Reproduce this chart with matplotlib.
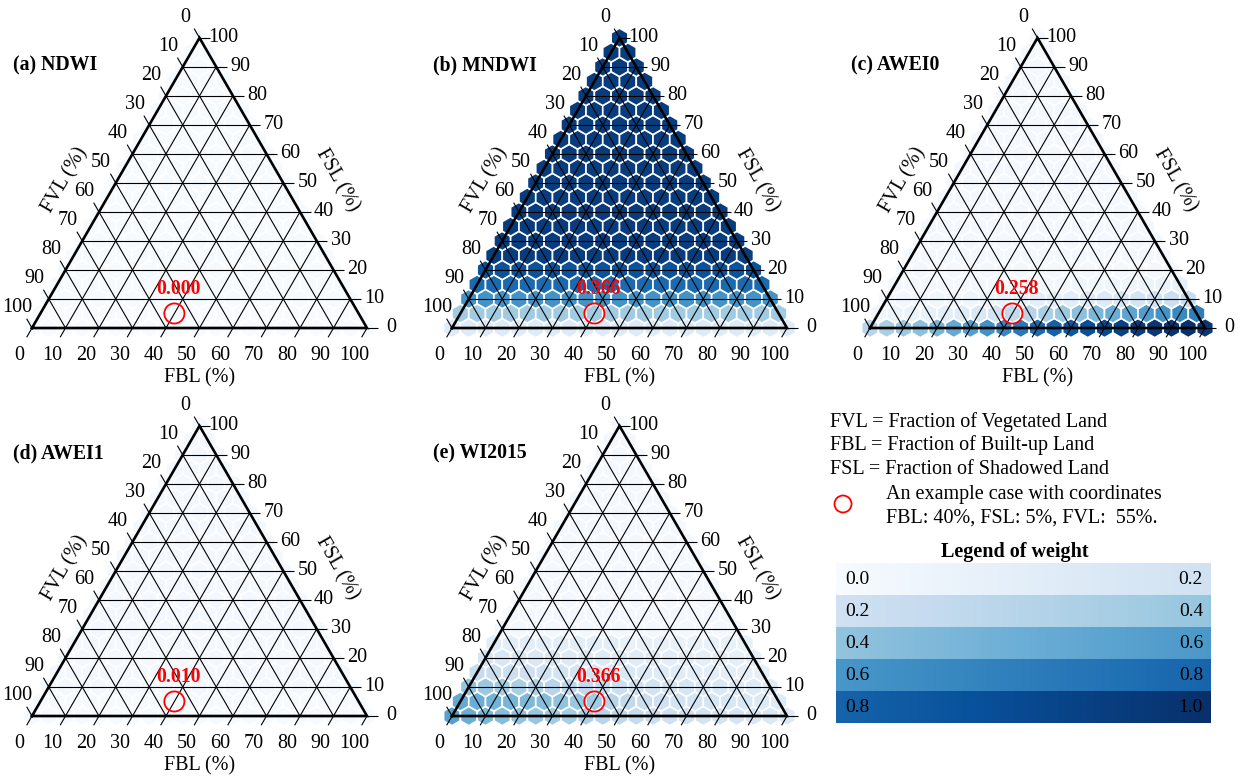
import numpy as np
import matplotlib
matplotlib.use("Agg")
import matplotlib.pyplot as plt
from matplotlib.patches import RegularPolygon, Circle
from matplotlib.collections import PatchCollection

plt.rcParams['font.family'] = 'Liberation Serif'

ticks = [0, 10, 20, 30, 40, 50, 60, 70, 80, 90, 100]

# weights, one row per FSL level (0, 5, ..., 100); each row runs over FBL = 0, 5, ..., 100 - FSL
ndwi = [[0.0] * 21, [0.0] * 20] + [[0.01] * n for n in range(19, 0, -1)]

mndwi = [[0.13] * 21, [0.366] * 20, [0.62] * 19, [0.78] * 18, [0.87] * 17] + \
        [[0.95] * n for n in range(16, 0, -1)]

awei0 = [
    [0.30, 0.34, 0.38, 0.42, 0.47, 0.52, 0.57, 0.62, 0.67, 0.72, 0.77,
     0.81, 0.85, 0.88, 0.91, 0.93, 0.95, 0.97, 0.98, 0.99, 0.97],
    [0.05, 0.06, 0.07, 0.08, 0.10, 0.12, 0.15, 0.19, 0.258, 0.30,
     0.34, 0.38, 0.42, 0.46, 0.50, 0.54, 0.58, 0.62, 0.66, 0.70],
    [0.03, 0.03, 0.04, 0.04, 0.05, 0.05, 0.06, 0.07, 0.08, 0.09,
     0.10, 0.11, 0.12, 0.14, 0.16, 0.18, 0.20, 0.22, 0.24],
    [0.02] * 9 + [0.03, 0.03, 0.04, 0.04, 0.05, 0.05, 0.06, 0.07, 0.08],
] + [[0.02] * n for n in range(17, 0, -1)]

awei1 = [[0.01] * 21, [0.01] * 20] + [[0.02] * n for n in range(19, 0, -1)]

wi2015 = [
    [0.56, 0.50, 0.46, 0.43, 0.41, 0.39, 0.37, 0.35, 0.33, 0.30, 0.27,
     0.25, 0.23, 0.21, 0.20, 0.19, 0.18, 0.17, 0.16, 0.15, 0.14],
    [0.52, 0.50, 0.48, 0.47, 0.45, 0.43, 0.41, 0.39, 0.366, 0.30,
     0.26, 0.23, 0.21, 0.19, 0.18, 0.17, 0.16, 0.15, 0.14, 0.13],
    [0.40, 0.38, 0.36, 0.34, 0.32, 0.30, 0.28, 0.26, 0.24, 0.22,
     0.20, 0.19, 0.18, 0.17, 0.16, 0.15, 0.14, 0.13, 0.12],
    [0.24, 0.23, 0.22, 0.21, 0.20, 0.19, 0.18, 0.17, 0.16,
     0.15, 0.14, 0.13, 0.12, 0.11, 0.10, 0.10, 0.09, 0.09],
    [0.17, 0.16, 0.16, 0.15, 0.15, 0.14, 0.14, 0.13, 0.13,
     0.12, 0.12, 0.11, 0.11, 0.10, 0.10, 0.09, 0.09],
    [0.11] * 8 + [0.08] * 8,
] + [[0.02] * n for n in range(15, 0, -1)]

titles = ['(a) NDWI', '(b) MNDWI', '(c) AWEI0', '(d) AWEI1', '(e) WI2015']
weights = [ndwi, mndwi, awei0, awei1, wi2015]

# example case
ex_fbl, ex_fsl = 40, 5

legend_lo = [0.0, 0.2, 0.4, 0.6, 0.8]
legend_hi = [0.2, 0.4, 0.6, 0.8, 1.0]

W, H = 1247, 776
S = 3.35  # px per percent
R3 = np.sqrt(3) / 2
TL = 3.2  # tick length
FS = 14.5


def to_xy(fbl, fsl):
    return fbl + fsl / 2.0, fsl * R3


def make_axes(fig, x0, y0):
    xl, xr, yb, yt = -12, 112, -20, 100
    ax = fig.add_axes([(x0 + xl * S) / W, (H - (y0 - yb * S)) / H,
                       (xr - xl) * S / W, (yt - yb) * S / H])
    ax.set_xlim(xl, xr)
    ax.set_ylim(yb, yt)
    ax.axis('off')
    return ax


def draw_panel(ax, title, rows):
    pts, vals = [], []
    for k, row in enumerate(rows):
        for j, w in enumerate(row):
            pts.append(to_xy(5 * j, 5 * k))
            vals.append(w)
    hexes = [RegularPolygon(p, 6, radius=5 / np.sqrt(3)) for p in pts]
    pc = PatchCollection(hexes, cmap='Blues', edgecolor='white', linewidth=1.2, zorder=1)
    pc.set_array(np.array(vals))
    pc.set_clim(0, 1)
    ax.add_collection(pc)

    lk = dict(color='black', lw=0.8, zorder=2, solid_capstyle='butt')
    for v in ticks:
        # constant FSL: horizontal, tick to the right
        x1, y1 = to_xy(0, v)
        x2, y2 = to_xy(100 - v, v)
        ax.plot([x1, x2 + TL], [y1, y2], **lk)
        ax.text(x2 + 7.2, y2, str(v), fontsize=FS, ha='center', va='center')
        # constant FBL: parallel to left edge, tick down-left
        x1, y1 = to_xy(v, 0)
        x2, y2 = to_xy(v, 100 - v)
        ax.plot([x1 - TL * 0.5, x2], [y1 - TL * R3, y2], **lk)
        ax.text(x1 - 3.8, y1 - 8.2, str(v), fontsize=FS, ha='center', va='center')
        # constant FVL: parallel to right edge, tick up-left
        x1, y1 = to_xy(0, 100 - v)
        x2, y2 = to_xy(100 - v, 0)
        ax.plot([x1 - TL * 0.5, x2], [y1 + TL * R3, y2], **lk)
        ax.text(x1 - 4.4, y1 + 6, str(v), fontsize=FS, ha='center', va='center')

    cx, cy = zip(to_xy(0, 0), to_xy(100, 0), to_xy(0, 100), to_xy(0, 0))
    ax.plot(cx, cy, color='black', lw=1.9, zorder=3, solid_joinstyle='miter')

    ax.text(50, -14.9, 'FBL (%)', fontsize=FS, ha='center', va='center')
    ax.text(10, 44, 'FVL (%)', fontsize=FS, ha='center', va='center', rotation=60)
    ax.text(91, 44, 'FSL (%)', fontsize=FS, ha='center', va='center', rotation=-60)
    ax.text(-5.7, 78.5, title, fontsize=14.2, fontweight='bold', ha='left', va='center')

    ex_w = rows[ex_fsl // 5][ex_fbl // 5]
    ex, ey = to_xy(ex_fbl, ex_fsl)
    ax.add_patch(Circle((ex, ey), 3.0, fill=False, ec='red', lw=1.3, zorder=4))
    ax.text(ex + 1.2, ey + 7.4, '%.3f' % ex_w, color='red', fontsize=14.2,
            fontweight='bold', ha='center', va='center', zorder=4)


fig = plt.figure(figsize=(W / 100, H / 100), dpi=100)

origins = [(32, 328), (452, 328), (870, 328), (32, 716), (452, 716)]
for (x0, y0), title, rows in zip(origins, titles, weights):
    ax = make_axes(fig, x0, y0)
    draw_panel(ax, title, rows)

# legend block, in pixel units
lax = fig.add_axes([820 / W, 0, (W - 820) / W, (H - 395) / H])
lax.set_xlim(820, W)
lax.set_ylim(H, 395)
lax.axis('off')

defs = ['FVL = Fraction of Vegetated Land',
        'FBL = Fraction of Built-up Land',
        'FSL = Fraction of Shadowed Land']
for i, s in enumerate(defs):
    lax.text(830, 422 + 23.5 * i, s, fontsize=14.5, ha='left', va='center')
lax.add_patch(Circle((843, 504), 8.5, fill=False, ec='red', lw=1.3))
lax.text(886, 494, 'An example case with coordinates', fontsize=14.5, ha='left', va='center')
lax.text(886, 518, 'FBL: 40%, FSL: 5%, FVL:  55%.', fontsize=14.5, ha='left', va='center')
lax.text(1015, 552, 'Legend of weight', fontsize=14.5, fontweight='bold', ha='center', va='center')

band_h = 32
for i, (lo, hi) in enumerate(zip(legend_lo, legend_hi)):
    top = 563 + band_h * i
    grad = np.linspace(lo, hi, 256).reshape(1, -1)
    lax.imshow(grad, cmap='Blues', vmin=0, vmax=1, aspect='auto',
               extent=(836, 1211, top + band_h, top), interpolation='bilinear')
    lax.text(845, top + band_h / 2, '%.1f' % lo, fontsize=14, ha='left', va='center')
    lax.text(1203, top + band_h / 2, '%.1f' % hi, fontsize=14, ha='right', va='center')
lax.set_xlim(820, W)
lax.set_ylim(H, 395)

fig.savefig('out.png', dpi=100)
